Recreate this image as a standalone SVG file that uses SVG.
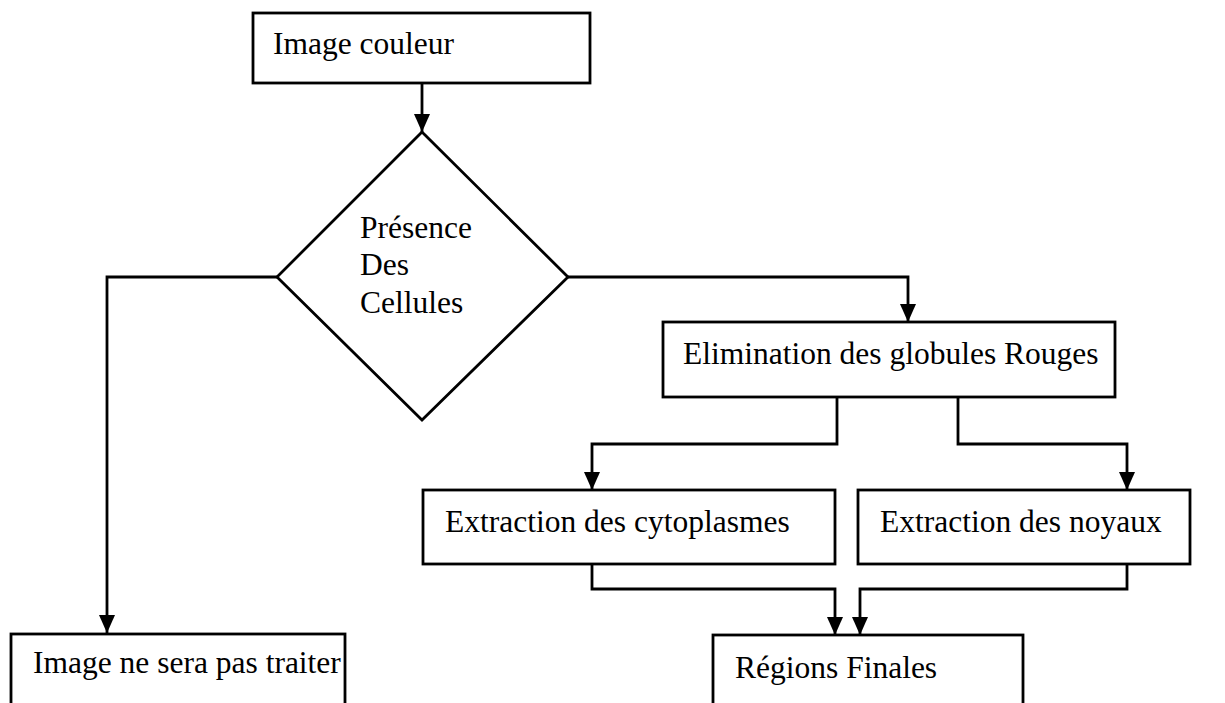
<svg xmlns="http://www.w3.org/2000/svg" width="1225" height="703" viewBox="0 0 1225 703">
<style>
.box{fill:#fff;stroke:#000;stroke-width:2.8}
.t{font-family:"Liberation Serif","Times New Roman",serif;font-size:31.5px;fill:#000}
.c{fill:none;stroke:#000;stroke-width:2.8}
</style>
<defs>
<marker id="ah" markerUnits="userSpaceOnUse" markerWidth="18" markerHeight="16" refX="18" refY="8" orient="auto" viewBox="0 0 18 16">
<path d="M0,0 L18,8 L0,16 z" fill="#000"/>
</marker>
</defs>
<rect width="1225" height="703" fill="#fff"/>
<g id="connectors">
<path class="c" d="M422,83 V132" marker-end="url(#ah)"/>
<path class="c" d="M278,277 H107 V633" marker-end="url(#ah)"/>
<path class="c" d="M568,277 H908 V322" marker-end="url(#ah)"/>
<path class="c" d="M837,397 V444 H592 V490" marker-end="url(#ah)"/>
<path class="c" d="M958,397 V444 H1127 V490" marker-end="url(#ah)"/>
<path class="c" d="M592,564 V589 H835 V635" marker-end="url(#ah)"/>
<path class="c" d="M1127,564 V589 H860 V635" marker-end="url(#ah)"/>
</g>
<g id="image-couleur">
<rect class="box" x="253" y="13" width="337" height="70"/>
<text class="t" x="273" y="54">Image couleur</text>
</g>
<g id="presence">
<polygon class="box" points="422,132 568,277 422,420 277,277"/>
<text class="t" x="360" y="238">Présence</text>
<text class="t" x="360" y="275">Des</text>
<text class="t" x="360" y="313">Cellules</text>
</g>
<g id="elimination">
<rect class="box" x="663" y="322" width="452" height="75"/>
<text class="t" x="683" y="364">Elimination des globules Rouges</text>
</g>
<g id="cytoplasmes">
<rect class="box" x="423" y="490" width="412" height="74"/>
<text class="t" x="445" y="532">Extraction des cytoplasmes</text>
</g>
<g id="noyaux">
<rect class="box" x="858" y="490" width="332" height="74"/>
<text class="t" x="880" y="532">Extraction des noyaux</text>
</g>
<g id="ne-sera-pas">
<rect class="box" x="11" y="634" width="334" height="80"/>
<text class="t" x="33" y="673">Image ne sera pas traiter</text>
</g>
<g id="regions">
<rect class="box" x="713" y="635" width="310" height="80"/>
<text class="t" x="735" y="678">Régions Finales</text>
</g>
</svg>
